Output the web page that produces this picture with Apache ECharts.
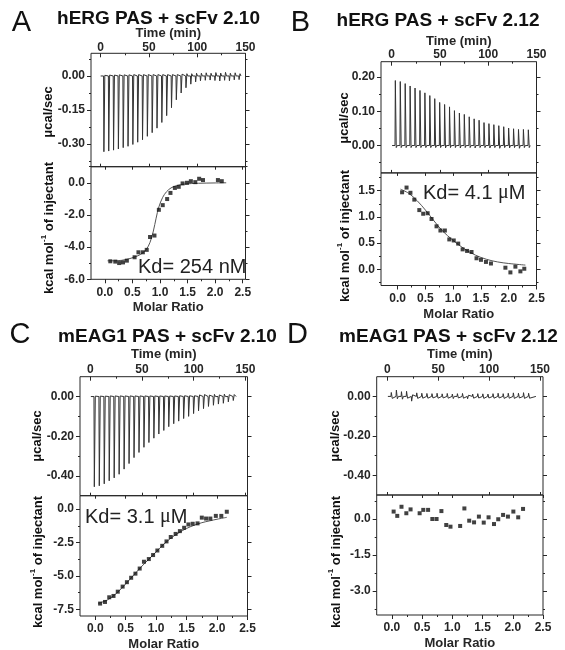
<!DOCTYPE html>
<html><head><meta charset="utf-8">
<script src="https://cdn.jsdelivr.net/npm/echarts@6/dist/echarts.min.js"></script>
<style>html,body{margin:0;padding:0;background:#fff}#c{width:565px;height:650px}</style>
</head><body><div id="c"></div>
<script>
// ---------------- DATA ----------------
// tick values
const timeMajor = [0, 50, 100, 150];
const timeMinor = [25, 75, 125];
const molarMajor = [0, 0.5, 1.0, 1.5, 2.0, 2.5];
const molarMinor = [0.25, 0.75, 1.25, 1.75, 2.25];
const aTopMajor = [0, -0.15, -0.30], aTopMinor = [0.075, -0.075, -0.225, -0.375];
const aBotMajor = [0, -2, -4, -6],    aBotMinor = [1, -1, -3, -5];
const bTopMajor = [0, 0.10, 0.20],    bTopMinor = [-0.05, 0.05, 0.15];
const bBotMajor = [0, 0.5, 1.0, 1.5], bBotMinor = [-0.25, 0.25, 0.75, 1.25, 1.75];
const cTopMajor = [0, -0.20, -0.40],  cTopMinor = [-0.10, -0.30];
const cBotMajor = [0, -2.5, -5.0, -7.5], cBotMinor = [-1.25, -3.75, -6.25];
const dTopMajor = [0, -0.20, -0.40],  dTopMinor = [-0.10, -0.30];
const dBotMajor = [0, -1.5, -3.0],    dBotMinor = [0.75, -0.75, -2.25, -3.75];

// Panel A: hERG PAS + scFv 2.10
const injTimeA = [3,8,13,18,23,28,33,38,43,48,53,58,63,68,73,78,83,88,93,98,103,108,113,118,123,128,133,138,143];
const peakA = [-0.334,-0.331,-0.327,-0.322,-0.316,-0.310,-0.302,-0.292,-0.281,-0.266,-0.250,-0.230,-0.205,-0.175,-0.140,-0.105,-0.075,-0.052,-0.036,-0.026,-0.021,-0.019,-0.018,-0.020,-0.022,-0.019,-0.021,-0.017,-0.016];
const reboundA = [0.003,0.004,0.004,0.005,0.005,0.005,0.006,0.006,0.006,0.006,0.006,0.006,0.006,0.006,0.006,0.006,0.008,0.010,0.010,0.012,0.012,0.014,0.012,0.015,0.013,0.016,0.012,0.014,0.010];
const ratioA = [0.10,0.19,0.26,0.33,0.40,0.54,0.61,0.69,0.76,0.82,0.90,0.98,1.05,1.13,1.19,1.27,1.34,1.41,1.49,1.56,1.64,1.71,1.78,2.05,2.12];
const heatA  = [-4.88,-4.90,-4.99,-4.95,-4.84,-4.63,-4.32,-4.32,-4.17,-3.37,-3.28,-1.68,-1.39,-1.01,-0.63,-0.32,-0.25,-0.04,0.00,0.10,0.04,0.25,0.17,0.17,0.10];
const fitRatioA = [0.05,0.20,0.40,0.55,0.65,0.75,0.82,0.88,0.93,0.98,1.05,1.12,1.20,1.30,1.45,1.70,2.00,2.20];
const fitHeatA  = [-4.85,-4.85,-4.76,-4.60,-4.45,-4.15,-3.70,-3.00,-2.20,-1.50,-0.90,-0.55,-0.32,-0.18,-0.08,-0.03,-0.01,0.00];

// Panel B: hERG PAS + scFv 2.12
const injTimeB = [3.5,8.6,13.7,18.8,23.9,29.0,34.1,39.2,44.3,49.4,54.5,59.6,64.7,69.8,74.9,80.0,85.1,90.2,95.3,100.4,105.5,110.6,115.7,120.8,125.9,131.0,136.1,141.2];
const peakB = [0.190,0.187,0.181,0.174,0.168,0.161,0.154,0.146,0.137,0.126,0.120,0.113,0.102,0.095,0.091,0.084,0.078,0.074,0.067,0.064,0.061,0.058,0.055,0.051,0.049,0.047,0.047,0.046];
const reboundB = [-0.006,-0.006,-0.006,-0.006,-0.006,-0.006,-0.006,-0.006,-0.006,-0.006,-0.007,-0.006,-0.006,-0.007,-0.006,-0.006,-0.007,-0.006,-0.006,-0.007,-0.006,-0.008,-0.006,-0.007,-0.006,-0.008,-0.006,-0.006];
const ratioB = [0.08,0.16,0.23,0.30,0.39,0.46,0.54,0.61,0.70,0.77,0.85,0.93,1.01,1.09,1.17,1.25,1.33,1.42,1.50,1.59,1.68,1.94,2.03,2.12,2.21,2.28];
const heatB  = [1.47,1.56,1.46,1.33,1.13,1.06,1.07,0.96,0.82,0.74,0.74,0.57,0.55,0.49,0.38,0.35,0.33,0.21,0.18,0.14,0.11,0.03,-0.06,0.05,-0.04,0.01];
const fitRatioB = [0.05,0.20,0.35,0.50,0.65,0.80,1.00,1.20,1.40,1.60,1.80,2.00,2.30];
const fitHeatB  = [1.53,1.45,1.31,1.13,0.93,0.74,0.55,0.39,0.27,0.19,0.14,0.11,0.08];

// Panel C: mEAG1 PAS + scFv 2.10
const injTimeC = [3.5,8.3,13.1,17.9,22.7,27.5,32.3,37.1,41.9,46.7,51.5,56.3,61.1,65.9,70.7,75.5,80.3,85.1,89.9,94.7,99.5,104.3,109.1,113.9,118.7,123.5,128.3,133.1,137.9];
const peakC = [-0.455,-0.450,-0.440,-0.425,-0.410,-0.392,-0.366,-0.338,-0.308,-0.282,-0.256,-0.232,-0.210,-0.189,-0.171,-0.152,-0.137,-0.124,-0.111,-0.100,-0.086,-0.072,-0.061,-0.050,-0.044,-0.038,-0.034,-0.027,-0.020];
const reboundC = [0.002,0.002,0.002,0.003,0.003,0.003,0.003,0.003,0.003,0.003,0.003,0.003,0.003,0.003,0.003,0.003,0.003,0.004,0.004,0.004,0.004,0.008,0.010,0.007,0.011,0.008,0.012,0.009,0.010];
const ratioC = [0.08,0.16,0.23,0.30,0.37,0.45,0.52,0.59,0.66,0.73,0.80,0.88,0.95,1.02,1.10,1.17,1.24,1.32,1.39,1.46,1.53,1.60,1.68,1.75,1.82,1.89,1.98,2.07,2.16];
const heatC  = [-7.07,-6.95,-6.60,-6.50,-6.18,-5.80,-5.47,-5.14,-4.83,-4.45,-3.94,-3.74,-3.44,-3.10,-2.75,-2.42,-2.09,-1.86,-1.65,-1.40,-1.15,-1.10,-1.07,-0.64,-0.71,-0.71,-0.51,-0.51,-0.20];
const fitRatioC = [0.05,0.20,0.35,0.50,0.62,0.75,0.88,1.00,1.12,1.25,1.38,1.50,1.62,1.75,1.88,2.00,2.16];
const fitHeatC  = [-7.05,-6.80,-6.30,-5.60,-5.00,-4.35,-3.75,-3.20,-2.65,-2.15,-1.75,-1.45,-1.22,-1.02,-0.88,-0.76,-0.62];

// Panel D: mEAG1 PAS + scFv 2.12
const injTimeD = [3.5,8.5,13.5,18.5,23.5,28.5,33.5,38.5,43.5,48.5,53.5,58.5,63.5,68.5,73.5,78.5,83.5,88.5,93.5,98.5,103.5,108.5,113.5,118.5,123.5,128.5,133.5,138.5];
const peakD = [0.020,0.032,0.024,0.026,-0.024,0.018,0.016,0.015,0.014,0.016,0.013,0.015,0.012,0.014,0.015,-0.012,0.012,0.014,0.013,0.012,0.014,0.016,0.014,0.016,0.018,0.016,0.019,0.016];
const reboundD = [-0.010,-0.012,-0.014,-0.009,0.008,-0.010,-0.009,-0.009,-0.008,-0.009,-0.008,-0.009,-0.011,-0.008,-0.009,0.006,-0.009,-0.008,-0.010,-0.008,-0.009,-0.008,-0.010,-0.009,-0.010,-0.008,-0.010,-0.009];
const ratioD = [0.03,0.09,0.16,0.24,0.31,0.46,0.52,0.60,0.67,0.74,0.82,0.90,0.97,1.13,1.20,1.28,1.36,1.44,1.52,1.60,1.69,1.76,1.84,1.92,2.01,2.09,2.17];
const heatD  = [0.31,0.13,0.51,0.24,0.40,0.24,0.38,0.38,0.00,0.00,0.33,-0.25,-0.32,-0.29,0.44,-0.07,-0.14,0.10,-0.15,0.07,-0.21,-0.01,0.17,0.10,0.31,0.07,0.42];

// ---------------- BUILD ----------------
const FONT = "'Liberation Sans', Arial, Helvetica, sans-serif";
const INK = '#262626';
const grids = [], xAxes = [], yAxes = [], series = [];

function addPlot(c) {
  const gi = grids.length;
  grids.push({left: c.box[0], top: c.box[1], width: c.box[2], height: c.box[3], show: true,
    borderColor: INK, borderWidth: 1, containLabel: false, outerBoundsMode: 'none'});
  const ax = (extra) => Object.assign({type: 'value', gridIndex: gi, splitLine: {show: false},
    axisLine: {show: false, onZero: false}, axisLabel: {show: false}, axisTick: {show: false}, silent: true}, extra);
  const tick = (vals, inside, len) => ({show: true, inside: inside, length: len, customValues: vals, lineStyle: {color: INK, width: 1}});
  const lbl = (vals, dec, margin) => ({show: true, customValues: vals, margin: margin,
    formatter: v => Number(v).toFixed(dec), color: INK, fontFamily: FONT, fontWeight: 'bold', fontSize: 12});
  const X = c.x, Y = c.y;
  const xi = xAxes.length;
  xAxes.push(ax({min: X.min, max: X.max, position: X.pos, axisTick: tick(X.major, X.inside, 4),
    axisLabel: lbl(X.major, X.dec, X.margin), name: X.name, nameLocation: 'middle', nameGap: X.nameGap,
    nameTextStyle: {color: INK, fontFamily: FONT, fontWeight: 'bold', fontSize: 13}}));
  xAxes.push(ax({min: X.min, max: X.max, position: X.pos, axisTick: tick(X.minor, X.inside, 2)}));
  const opp = X.pos === 'top' ? 'bottom' : 'top';
  xAxes.push(ax({min: X.min, max: X.max, position: opp, axisTick: tick(X.major, true, 3)}));
  const yi = yAxes.length;
  yAxes.push(ax({min: Y.min, max: Y.max, position: 'left', axisTick: tick(Y.major, false, 4),
    axisLabel: lbl(Y.major, Y.dec, Y.margin)}));
  yAxes.push(ax({min: Y.min, max: Y.max, position: 'left', axisTick: tick(Y.minor, false, 2)}));
  yAxes.push(ax({min: Y.min, max: Y.max, position: 'right', axisTick: tick(Y.major, false, 4)}));
  yAxes.push(ax({min: Y.min, max: Y.max, position: 'right', axisTick: tick(Y.minor, false, 2)}));
  return {xi, yi};
}

function trace(times, peaks, rebounds, tEnd) {
  const d = [[times[0] - 3, 0]];
  times.forEach((t, i) => {
    d.push([t, 0], [t + 0.35, peaks[i]], [t + 1.3, rebounds[i]], [t + 2.3, 0]);
  });
  d.push([tEnd, 0]);
  return d;
}
const zip = (a, b) => a.map((v, i) => [v, b[i]]);

function thermo(ax, data) {
  series.push({type: 'line', xAxisIndex: ax.xi, yAxisIndex: ax.yi, data: data, symbol: 'none',
    lineStyle: {color: '#333', width: 1}, animation: false, silent: true, clip: true});
}
function isotherm(ax, rx, hy, fx, fy) {
  if (fx) series.push({type: 'line', xAxisIndex: ax.xi, yAxisIndex: ax.yi, data: zip(fx, fy), symbol: 'none',
    smooth: 0.35, lineStyle: {color: '#555', width: 1}, animation: false, silent: true, z: 2});
  series.push({type: 'scatter', xAxisIndex: ax.xi, yAxisIndex: ax.yi, data: zip(rx, hy), symbol: 'rect',
    symbolSize: 4, itemStyle: {color: '#111'}, animation: false, silent: true, z: 3});
}

// layout
const L = {
  A: {left: 91, width: 154.5, t0: 53.3, t1: 166.7, t2: 279.3, tmin: -10, tmax: 150, mmin: -0.25, mmax: 2.55, tGap: 12, tMargin: 0},
  B: {left: 381, width: 155.5, t0: 61.7, t1: 172.9, t2: 285.5, tmin: -11, tmax: 150, mmin: -0.30, mmax: 2.50, tGap: 12, tMargin: 1},
  C: {left: 80, width: 167.5, t0: 376.7, t1: 495.7, t2: 616, tmin: -10, tmax: 152, mmin: -0.25, mmax: 2.50, tGap: 16, tMargin: 1},
  D: {left: 376.7, width: 166.3, t0: 376.7, t1: 495, t2: 615, tmin: -10.5, tmax: 153, mmin: -0.25, mmax: 2.50, tGap: 16, tMargin: 1}
};
const P = {
  A: {top: [aTopMajor, aTopMinor, -0.4, 0.1, 2], bot: [aBotMajor, aBotMinor, -6, 1, 1]},
  B: {top: [bTopMajor, bTopMinor, -0.08, 0.245, 2], bot: [bBotMajor, bBotMinor, -0.31, 1.84, 1]},
  C: {top: [cTopMajor, cTopMinor, -0.5, 0.1, 2], bot: [cBotMajor, cBotMinor, -8, 1, 1]},
  D: {top: [dTopMajor, dTopMinor, -0.5, 0.1, 2], bot: [dBotMajor, dBotMinor, -4, 1, 1]}
};
const axes = {};
Object.keys(L).forEach(k => {
  const l = L[k], p = P[k];
  axes[k + 'top'] = addPlot({box: [l.left, l.t0, l.width, l.t1 - l.t0],
    x: {min: l.tmin, max: l.tmax, major: timeMajor, minor: timeMinor, dec: 0, pos: 'top', inside: true, margin: l.tMargin, name: 'Time (min)', nameGap: l.tGap},
    y: {min: p.top[2], max: p.top[3], major: p.top[0], minor: p.top[1], dec: p.top[4], margin: 6}});
  axes[k + 'bot'] = addPlot({box: [l.left, l.t1, l.width, l.t2 - l.t1],
    x: {min: l.mmin, max: l.mmax, major: molarMajor, minor: molarMinor, dec: 1, pos: 'bottom', inside: false, margin: 7, name: 'Molar Ratio', nameGap: 22},
    y: {min: p.bot[2], max: p.bot[3], major: p.bot[0], minor: p.bot[1], dec: p.bot[4], margin: 6}});
});

thermo(axes.Atop, trace(injTimeA, peakA, reboundA, 146));
thermo(axes.Btop, trace(injTimeB, peakB, reboundB, 144));
thermo(axes.Ctop, trace(injTimeC, peakC, reboundC, 141));
thermo(axes.Dtop, trace(injTimeD, peakD, reboundD, 146));
isotherm(axes.Abot, ratioA, heatA, fitRatioA, fitHeatA);
isotherm(axes.Bbot, ratioB, heatB, fitRatioB, fitHeatB);
isotherm(axes.Cbot, ratioC, heatC, fitRatioC, fitHeatC);
isotherm(axes.Dbot, ratioD, heatD, null, null);

// ---------------- TEXT ----------------
const graphics = [];
function txt(x, y, text, font, rotation) {
  const g = {type: 'text', x: x, y: y, silent: true,
    style: {text: text, font: font, fill: '#111', align: 'center', verticalAlign: 'middle'}};
  if (rotation) g.rotation = rotation;
  graphics.push(g);
}
const letterFont = "29px " + FONT;
const titleFont = "bold 19px " + FONT;
const nameFont = "bold 13px " + FONT;
txt(21.5, 22.5, 'A', letterFont);  txt(158.5, 18.5, 'hERG PAS + scFv 2.10', titleFont);
txt(300.5, 23, 'B', letterFont);   txt(438, 20.5, 'hERG PAS + scFv 2.12', titleFont);
txt(20, 335, 'C', letterFont);     txt(167.5, 337, 'mEAG1 PAS + scFv 2.10', titleFont);
txt(297.5, 335, 'D', letterFont);  txt(448.5, 337, 'mEAG1 PAS + scFv 2.12', titleFont);

const yNames = [[48, 112, 228], [344, 118, 236], [37, 436, 562], [335, 436, 562]];
yNames.forEach(([x, y1, y2]) => {
  txt(x, y1, 'μcal/sec', nameFont, Math.PI / 2);
  graphics.push({type: 'text', x: x, y: y2, rotation: Math.PI / 2, silent: true,
    style: {text: '{a|kcal mol}{s|-1}{a| of injectant}', align: 'center', verticalAlign: 'middle', fill: '#111',
      rich: {a: {font: nameFont, fill: '#111', lineHeight: 16, verticalAlign: 'bottom'},
             s: {font: "bold 8px " + FONT, fill: '#111', lineHeight: 16, verticalAlign: 'top', padding: [0, 0, 8, 0]}}}});
});

function kd(x, y, value) {
  graphics.push({type: 'text', x: x, y: y, silent: true,
    style: {text: value, align: 'left', verticalAlign: 'middle', fill: '#222',
      rich: {a: {font: "20px " + FONT, fill: '#222'}, m: {font: "20px 'Liberation Serif', serif", fill: '#222'}}}});
}
kd(138, 267, '{a|Kd= 254 nM}');
kd(423, 193, '{a|Kd= 4.1 }{m|μ}{a|M}');
kd(85, 517, '{a|Kd= 3.1 }{m|μ}{a|M}');

const chart = echarts.init(document.getElementById('c'), null, {renderer: 'canvas'});
chart.setOption({animation: false, backgroundColor: '#fff', grid: grids, xAxis: xAxes, yAxis: yAxes, series: series, graphic: graphics});
</script></body></html>
